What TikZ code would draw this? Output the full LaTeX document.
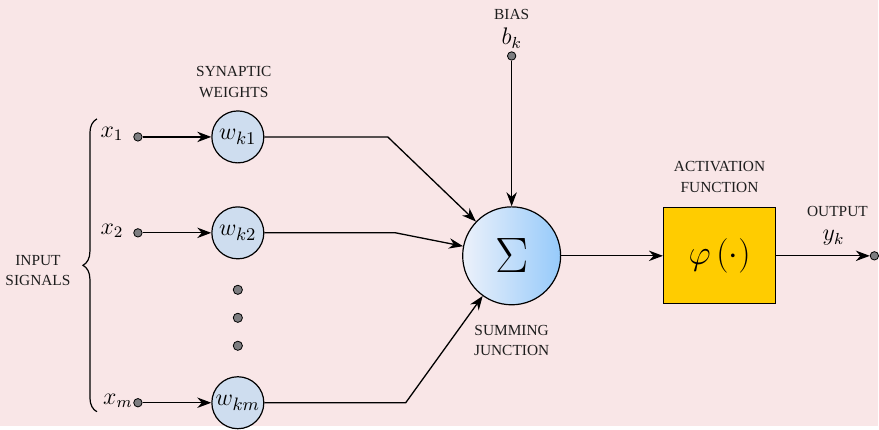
\documentclass[tikz,border=0pt]{standalone}
\usepackage{amsmath,amssymb}
\usepackage{fontspec}
\newfontfamily\lblfont{Liberation Serif}
\usetikzlibrary{arrows.meta,decorations.pathreplacing,calc}
\definecolor{bgpink}{RGB}{249,230,231}
\definecolor{wfill}{RGB}{206,221,239}
\definecolor{pingray}{RGB}{125,125,128}
\definecolor{sumleft}{RGB}{236,241,250}
\definecolor{sumright}{RGB}{150,202,250}
\definecolor{actgold}{RGB}{255,204,0}
\definecolor{lblgray}{RGB}{30,30,30}

\begin{document}
\begin{tikzpicture}[x=0.5pt,y=-0.5pt,
    lbl/.style={font=\lblfont\fontsize{7.7}{10.2}\selectfont,text=lblgray,align=center,inner sep=0pt},
    mlbl/.style={font=\large,inner sep=0pt},
    wnode/.style={circle,draw,line width=0.6pt,fill=wfill,minimum size=26pt,inner sep=0pt,
                  font=\fontsize{13}{15}\selectfont},
    pin/.style={circle,draw,fill=pingray,minimum size=4.2pt,inner sep=0pt},
    sig/.style={-{Stealth[length=7pt,width=5.2pt]},line width=0.65pt}]
    \fill[bgpink] (0,0) rectangle (879,426);

    % inputs and weights
    \node[pin] (in1) at (138,137) {};
    \node[pin] (in2) at (138,233) {};
    \node[pin] (inm) at (138,403) {};
    \node[mlbl] (lx1) at (112,134) {$x_1$};
    \node[mlbl] (lx2) at (112,231) {$x_2$};
    \node[mlbl] (lxm) at (118,401) {$x_m$};

    \node[wnode] (w1) at (238,137) {$w_{k1}$};
    \node[wnode] (w2) at (238,233) {$w_{k2}$};
    \node[wnode] (wm) at (238,403) {$w_{km}$};
    \foreach \y/\n in {290/1,318/2,346/3}
        \node[pin,minimum size=4.6pt] (dot\n) at (238,\y) {};

    \coordinate (brb) at (97,412);
    \coordinate (brt) at (97,119);
    \draw[line width=0.6pt,decorate,decoration={brace,amplitude=7pt}] (brb) -- (brt);
    \node[lbl] (linput) at (38,271) {INPUT\\SIGNALS};
    \node[lbl] (lsyn) at (234,82) {SYNAPTIC\\WEIGHTS};

    % summing junction, bias, activation
    \node[circle,draw,line width=0.6pt,minimum size=49pt,inner sep=0pt,shading=axis,
          left color=sumleft,right color=sumright,
          font=\fontsize{28}{32}\selectfont] (sum) at (512,256) {$\Sigma$};
    \node[lbl] (lsum) at (512,341) {SUMMING\\JUNCTION};
    \node[pin] (bias) at (512,56) {};
    \node[mlbl] (lb) at (512,38) {$b_k$};
    \node[lbl] (lbias) at (512,14) {BIAS};

    \node[draw,line width=0.6pt,fill=actgold,minimum width=56pt,minimum height=48pt,inner sep=0pt,
          font=\fontsize{19}{22}\selectfont] (act) at (720,256) {$\varphi\left(\cdot\right)$};
    \node[lbl] (lact) at (720,177) {ACTIVATION\\FUNCTION};

    \node[pin] (out) at (875,256) {};
    \node[lbl] (lout) at (838,212) {OUTPUT};
    \node[mlbl] (ly) at (834,238) {$y_k$};

    % connections
    \coordinate (k1) at (388,137);
    \coordinate (k2) at (396,233);
    \coordinate (km) at (406,403);
    \draw[sig] (in1) -- (w1);
    \draw[sig] (in2) -- (w2);
    \draw[sig] (inm) -- (wm);
    \draw[sig] (w1) -- (k1) -- (sum);
    \draw[sig] (w2) -- (k2) -- (sum);
    \draw[sig] (wm) -- (km) -- (sum);
    \draw[sig] (bias) -- (sum);
    \draw[sig] (sum) -- (act);
    \draw[sig] (act) -- (out);
\end{tikzpicture}
\end{document}
